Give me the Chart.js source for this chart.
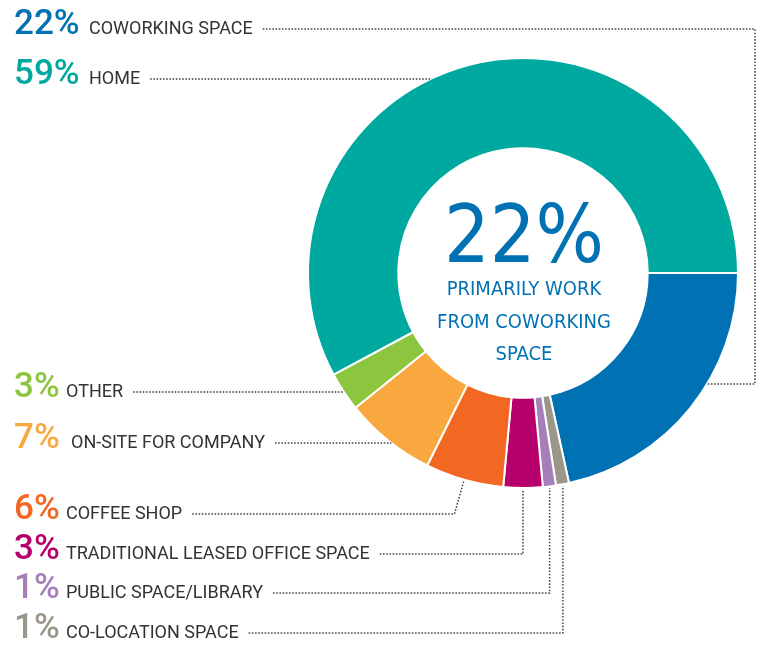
<!DOCTYPE html>
<html>
<head>
<meta charset="utf-8">
<title>Primary work location</title>
<script src="https://cdn.jsdelivr.net/npm/chart.js@4.4.1/dist/chart.umd.min.js"></script>
<style>
    html, body { margin: 0; padding: 0; background: #fff; }
</style>
</head>
<body>
<canvas id="donut" width="764" height="645"></canvas>
<script>

// slices run clockwise from 3 o'clock
const categories = ['COWORKING SPACE', 'CO-LOCATION SPACE', 'PUBLIC SPACE/LIBRARY',
    'TRADITIONAL LEASED OFFICE SPACE', 'COFFEE SHOP', 'ON-SITE FOR COMPANY', 'OTHER', 'HOME'];
const shares = [22, 1, 1, 3, 6, 7, 3, 59];
const sliceColors = ['#0071b3', '#9b968a', '#a67fb9', '#b8006c', '#f26722', '#f9a83f', '#8cc63f', '#00a99f'];

const headline = '22%';
const headlineLines = ['PRIMARILY WORK', 'FROM COWORKING', 'SPACE'];

// label baseline, where the name starts, and how the dotted leader reaches the ring
const labelSpots = [
    { y: 34,  textX: 89, route: 'wrap' },
    { y: 638, textX: 66, route: 'down' },
    { y: 598, textX: 66, route: 'down' },
    { y: 559, textX: 66, route: 'down' },
    { y: 519, textX: 66, route: 'radial' },
    { y: 448, textX: 71, route: 'side' },
    { y: 397, textX: 66, route: 'side' },
    { y: 84,  textX: 89, route: 'side' }
];

const pctFont = '500 35px Roboto, "DejaVu Sans", sans-serif';
const nameFont = '18px Roboto, "DejaVu Sans", sans-serif';
const narrow = '"Liberation Sans Narrow", "DejaVu Sans Condensed", sans-serif';

const labelsAndLeaders = {
    id: 'labelsAndLeaders',
    afterDraw(chart) {
        const ctx = chart.ctx;
        const arcs = chart.getDatasetMeta(0).data;
        ctx.save();
        ctx.textAlign = 'left';
        ctx.textBaseline = 'alphabetic';

        categories.forEach((name, i) => {
            const spot = labelSpots[i];
            const arc = arcs[i];
            const cx = arc.x, cy = arc.y, r = arc.outerRadius;
            const mid = (arc.startAngle + arc.endAngle) / 2;

            ctx.font = pctFont;
            ctx.fillStyle = sliceColors[i];
            ctx.fillText(shares[i] + '%', 14, spot.y);

            ctx.font = nameFont;
            ctx.fillStyle = '#333';
            ctx.fillText(name, spot.textX, spot.y);

            const lineY = spot.y - 5;
            const pts = [[spot.textX + ctx.measureText(name).width + 10, lineY]];

            if (spot.route === 'side') {
                const dy = lineY - cy;
                pts.push([cx - Math.sqrt(r * r - dy * dy), lineY]);
            } else if (spot.route === 'wrap') {
                const a = arc.startAngle + 0.4 * (arc.endAngle - arc.startAngle);
                const ey = cy + r * Math.sin(a);
                pts.push([cx + r + 17, lineY], [cx + r + 17, ey], [cx + r * Math.cos(a), ey]);
            } else if (spot.route === 'radial') {
                const t = (lineY - cy) / Math.sin(mid);
                pts.push([cx + t * Math.cos(mid), lineY]);
                pts.push([cx + (r + 2) * Math.cos(mid), cy + (r + 2) * Math.sin(mid)]);
            } else {
                const x = cx + (r + 2) * Math.cos(mid);
                pts.push([x, lineY], [x, cy + (r + 2) * Math.sin(mid)]);
            }

            ctx.beginPath();
            ctx.moveTo(pts[0][0], pts[0][1]);
            pts.slice(1).forEach(p => ctx.lineTo(p[0], p[1]));
            ctx.setLineDash([1.6, 1.6]);
            ctx.lineWidth = 1.5;
            ctx.strokeStyle = '#444';
            ctx.stroke();
        });

        // headline in the hole
        const cx = arcs[0].x, cy = arcs[0].y;
        ctx.setLineDash([]);
        ctx.textAlign = 'center';
        ctx.fillStyle = '#0071b3';
        ctx.font = '80px ' + narrow;
        ctx.fillText(headline, cx + 1, cy - 11);
        ctx.font = '20px ' + narrow;
        headlineLines.forEach((line, k) => {
            ctx.fillText(line, cx + 1, cy + 22 + k * 32.5);
        });
        ctx.restore();
    }
};

new Chart(document.getElementById('donut'), {
    type: 'doughnut',
    data: {
        labels: categories,
        datasets: [{
            data: shares,
            backgroundColor: sliceColors,
            borderColor: '#fff',
            borderWidth: 2
        }]
    },
    options: {
        responsive: false,
        animation: false,
        devicePixelRatio: 1,
        rotation: 90,
        cutout: '58%',
        layout: {
            padding: { left: 307, top: 57, right: 25, bottom: 156 }
        },
        plugins: {
            legend: { display: false },
            tooltip: { enabled: false }
        }
    },
    plugins: [labelsAndLeaders]
});

</script>
</body>
</html>
